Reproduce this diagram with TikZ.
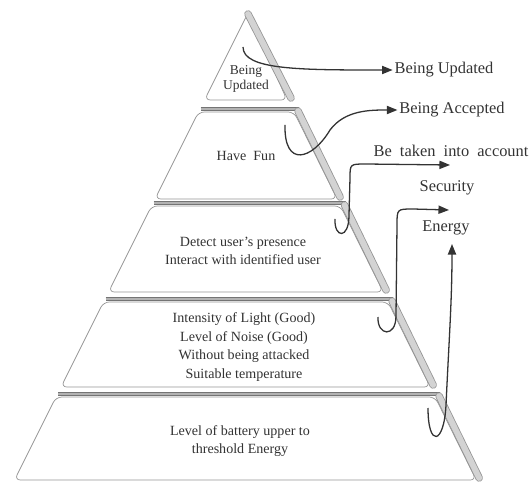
\documentclass[tikz,border=0pt]{standalone}
\usepackage{fontspec}
\setmainfont{Liberation Serif}
\usetikzlibrary{arrows.meta}
\usetikzlibrary{positioning}
\definecolor{edgegray}{HTML}{959595}
\definecolor{bargray}{HTML}{D3D3D3}
\definecolor{bandgray}{HTML}{747474}
\definecolor{inkgray}{HTML}{333333}
\tikzstyle{level} = [draw=edgegray, fill=white, line width=0.6pt, rounded corners=5pt]
\tikzstyle{band} = [draw=bandgray, double=gray!60, double distance=1.8pt, line width=0.7pt]
\tikzstyle{bar} = [draw=edgegray, double=bargray, double distance=5pt, line width=0.7pt, line cap=round]
\tikzstyle{inner} = [text=inkgray, align=center, font=\fontsize{12}{16}\selectfont]
\tikzstyle{goal} = [text=inkgray, inner sep=1.5pt, font=\fontsize{14}{16}\selectfont]
\tikzstyle{link} = [draw=inkgray, line width=1.1pt, -{Triangle[length=9pt,width=7pt]}]

\begin{document}
\begin{tikzpicture}[x=0.03cm, y=-0.03cm]
\useasboundingbox (0,0) rectangle (532,483);

% top of the pyramid
\path[level] (248,13) -- (204.5,100) -- (287,100) -- cycle;
\draw[bar] (248,14) -- (291,98);

% the four lower levels
\foreach \t/\b in {112/199, 206/292, 302/387, 397/480} {
  \pgfmathsetmacro\lt{248-0.5*(\t-13)}
  \pgfmathsetmacro\lb{248-0.5*(\b-13)}
  \pgfmathsetmacro\rt{248+0.495*(\t-13)}
  \pgfmathsetmacro\rb{248+0.495*(\b-13)}
  \path[level] (\lt,\t) -- (\rt-3,\t) -- (\rb-3,\b) -- (\lb,\b) -- cycle;
  \draw[band] (\lt+2,\t-3) -- (\rt+2,\t-3);
  \draw[bar] (\rt+1,\t-1) -- (\rb,\b-2);
}

% texts inside the levels
\node[inner, font=\fontsize{11.5}{13.5}\selectfont] (top) at (246,79) {Being\\Updated};
\node[inner] (fun) at (246,156) {Have\ \ Fun};
\node[inner] (user) at (243,251) {Detect user's presence\\Interact with identified user};
\node[inner] (env) at (244,347) {Intensity of Light (Good)\\Level of Noise (Good)\\Without being attacked\\Suitable temperature};
\node[inner] (battery) at (240,441) {Level of battery upper to\\threshold Energy};

% goals
\node[goal] (updated) at (444,70) {Being Updated};
\node[goal] (accepted) at (452,110) {Being Accepted};
\node[goal] (account) at (451,151) {\spaceskip=0.5em Be taken into account};
\node[goal] (security) at (447,188) {Security};
\node[goal] (energy) at (446,228) {Energy};

% arrows
\coordinate (s1) at (243,47);
\coordinate (s2) at (285,125);
\coordinate (s3) at (335,219);
\coordinate (s4) at (378,317);
\coordinate (s5) at (428,408);
\coordinate (e3) at (450,165);
\coordinate (e4) at (449,210);
\coordinate (e5) at (452,244);

\draw[link] (s1) .. controls (243,70) and (300,70) .. (updated.west);
\draw[link] (s2) .. controls (284,168) and (312,160) .. (330,130)
  .. controls (345,110) and (370,110) .. (accepted.west);
\draw[link] (s3) .. controls (334,238) and (349,240) .. (349,215) -- (350,178)
  .. controls (350,164) .. (366,164) -- (e3);
\draw[link] (s4) .. controls (377,336) and (396,338) .. (396,316) -- (397,225)
  .. controls (397,209) .. (413,209) -- (e4);
\draw[link] (s5) .. controls (428,448) and (444,445) .. (446,405)
  .. controls (449,340) and (452,300) .. (e5);
\end{tikzpicture}
\end{document}
